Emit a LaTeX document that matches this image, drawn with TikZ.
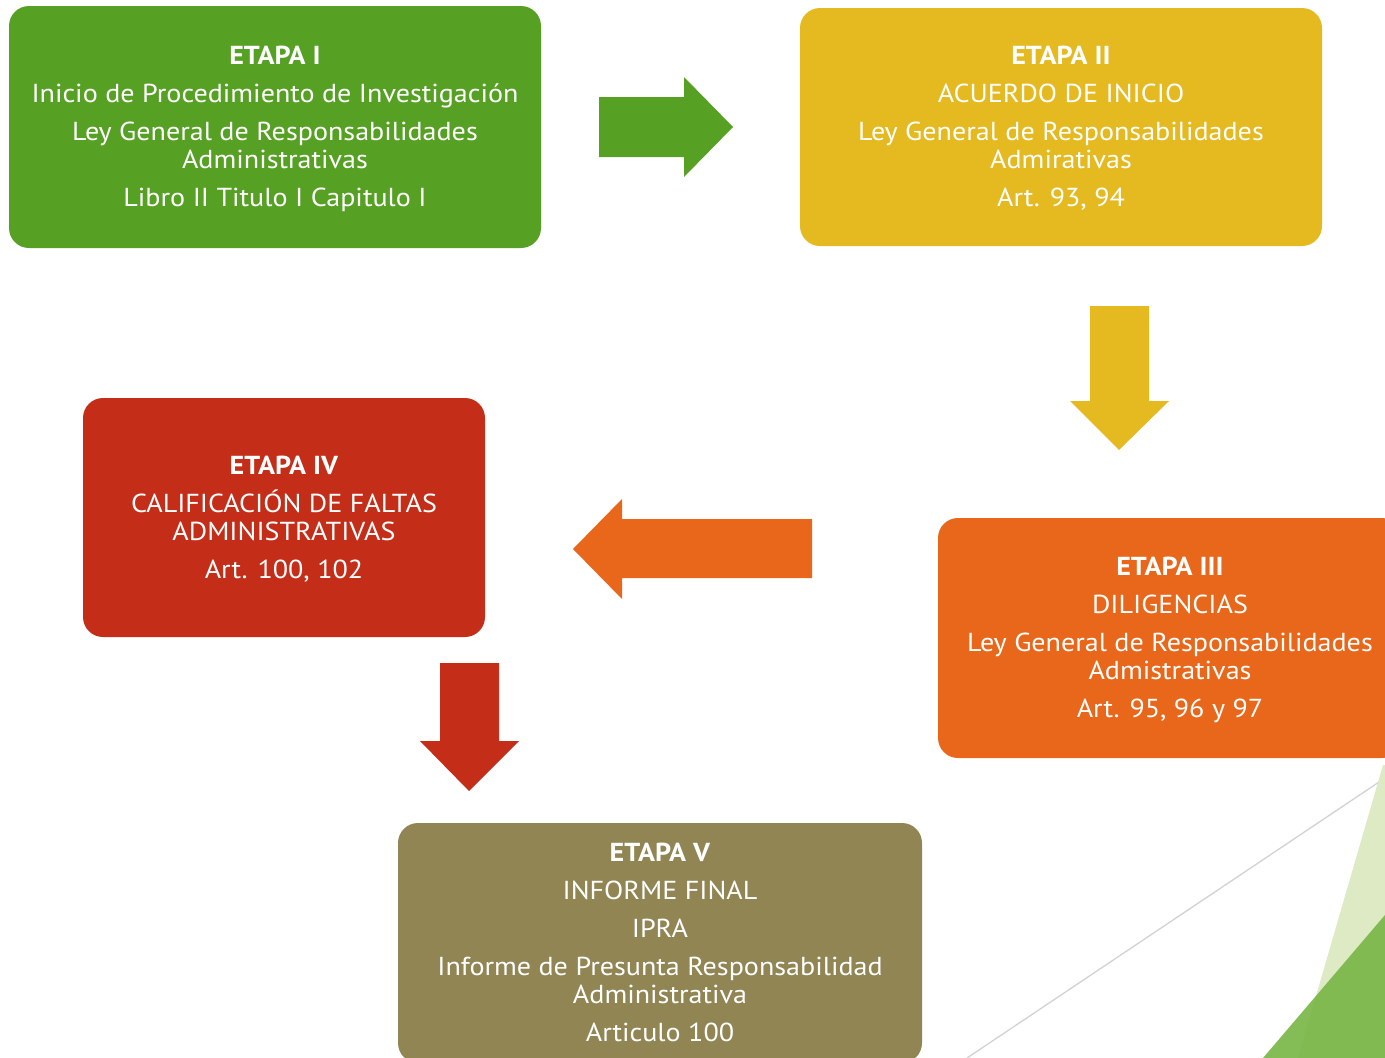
\documentclass[tikz,border=0pt]{standalone}
\usepackage{fontspec}
\setmainfont{PT Sans}[FakeStretch=1.08]
\definecolor{cgreen}{RGB}{86,161,36}
\definecolor{cyellow}{RGB}{229,185,32}
\definecolor{corange}{RGB}{232,103,26}
\definecolor{cred}{RGB}{196,46,25}
\definecolor{colive}{RGB}{145,133,84}
\definecolor{lgreen}{RGB}{221,234,196}
\definecolor{dgreen}{RGB}{122,182,72}
\begin{document}
\begin{tikzpicture}[x=1pt,y=-1pt,
  stage/.style={rounded corners=20pt, inner sep=0pt},
  stagetext/.style={inner sep=0pt, text=white, align=center,
    font=\fontsize{26}{28}\selectfont}]
\useasboundingbox (0,0) rectangle (1385,1058);
\clip (0,0) rectangle (1385,1058);
% decorations
\draw[gray!35, line width=1.3pt] (967,1058) -- (1385,778);
\fill[lgreen] (1383,765) -- (1385,765) -- (1385,1058) -- (1298,1058) -- cycle;
\fill[dgreen, opacity=0.92] (1385,915) -- (1385,1058) -- (1263,1058) -- cycle;
% boxes
\node[stage, fill=cgreen, minimum width=532pt, minimum height=242pt] (e1) at (275,127) {};
\node[stage, fill=cyellow, minimum width=522pt, minimum height=238pt] (e2) at (1061,127) {};
\node[stage, fill=corange, minimum width=464pt, minimum height=240pt] (e3) at (1170,638) {};
\node[stage, fill=cred, minimum width=402pt, minimum height=239pt] (e4) at (284,517.5) {};
\node[stage, fill=colive, minimum width=524pt, minimum height=240pt] (e5) at (660,943) {};
% texts
\node[stagetext] (t1) at (275,129)
  {\textbf{ETAPA I}\\[10pt]Inicio de Procedimiento de Investigación\\[10pt]Ley General de Responsabilidades\\Administrativas\\[10pt]Libro II Titulo I Capitulo I};
\node[stagetext] (t2) at (1061,128)
  {\textbf{ETAPA II}\\[10pt]ACUERDO DE INICIO\\[10pt]Ley General de Responsabilidades\\Admirativas\\[10pt]Art. 93, 94};
\node[stagetext] (t3) at (1170,639.5)
  {\textbf{ETAPA III}\\[10pt]DILIGENCIAS\\[10pt]Ley General de Responsabilidades\\Admistrativas\\[10pt]Art. 95, 96 y 97};
\node[stagetext] (t4) at (284,519)
  {\textbf{ETAPA IV}\\[10pt]CALIFICACIÓN DE FALTAS\\ADMINISTRATIVAS\\[10pt]Art. 100, 102};
\node[stagetext] (t5) at (660,942.5)
  {\textbf{ETAPA V}\\[10pt]INFORME FINAL\\[10pt]IPRA\\[10pt]Informe de Presunta Responsabilidad\\Administrativa\\[10pt]Articulo 100};
% block arrows
\fill[cgreen] (599,97) -- (684,97) -- (684,77) -- (733,127) -- (684,177) -- (684,157) -- (599,157) -- cycle;
\fill[cyellow] (1090,306) -- (1149,306) -- (1149,401) -- (1169,401) -- (1119,450) -- (1070,401) -- (1090,401) -- cycle;
\fill[corange] (812,519) -- (622,519) -- (622,499) -- (573,549) -- (622,599) -- (622,578) -- (812,578) -- cycle;
\fill[cred] (440,663) -- (499,663) -- (499,741) -- (519,741) -- (469,791) -- (420,741) -- (440,741) -- cycle;
\end{tikzpicture}
\end{document}
